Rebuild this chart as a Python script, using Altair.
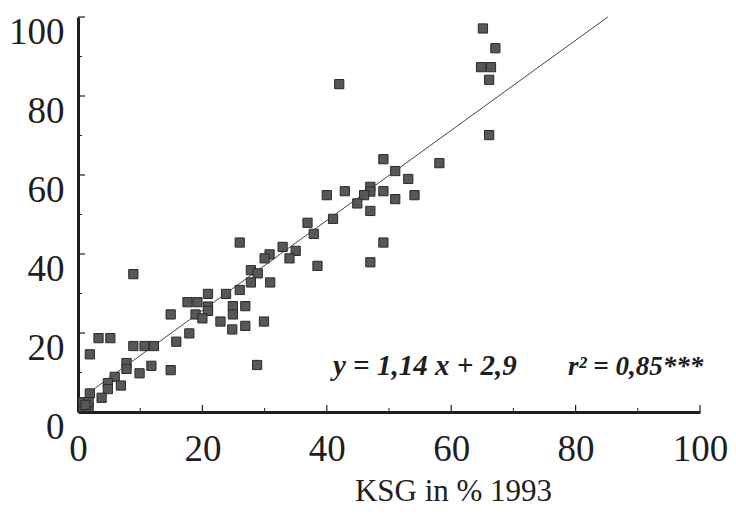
import altair as alt
import pandas as pd

# KSG values: x = 1993 (%), y = later year (%)
x_vals = [26.0, 8.9, 36.9, 37.9, 38.5, 32.9, 35.0, 34.0, 30.8, 30.0,
          27.8, 28.9, 27.8, 30.9, 26.0, 23.8, 20.9, 17.6, 19.2, 20.9,
          20.9, 24.9, 24.9, 26.9, 18.9, 20.0, 22.9, 14.9, 17.9, 15.8,
          24.8, 26.9, 29.9, 28.8, 3.3, 5.2, 1.9, 8.9, 10.7, 12.2,
          11.8, 14.9, 9.9, 7.8, 7.8, 5.9, 4.8, 4.8, 6.9, 3.8,
          1.9, 0.8, 1.7, 0.8, 1.7, 1.2,
          64.8, 66.4, 66.1, 66.1, 42.0, 58.1, 49.1, 51.0, 53.1, 49.1,
          51.0, 54.1, 47.0, 47.0, 46.0, 44.9, 42.9, 40.0, 47.0, 41.0,
          49.1, 47.0, 65.1, 67.1]
y_vals = [42.9, 34.9, 47.9, 45.1, 37.0, 41.8, 40.8, 38.9, 39.9, 38.9,
          35.9, 35.1, 32.8, 32.8, 30.9, 29.9, 29.9, 27.8, 27.8, 26.7,
          25.6, 26.8, 24.7, 26.8, 24.7, 23.7, 22.9, 24.7, 19.9, 17.8,
          20.9, 21.8, 22.9, 11.9, 18.7, 18.7, 14.6, 16.7, 16.7, 16.7,
          11.7, 10.6, 9.8, 12.4, 10.9, 8.9, 7.3, 5.8, 6.7, 3.6,
          4.7, 1.3, 1.3, 2.5, 2.5, 1.8,
          87.3, 87.3, 84.1, 70.1, 83.0, 63.0, 64.0, 61.0, 59.0, 55.9,
          53.9, 54.9, 57.0, 55.8, 54.9, 52.8, 55.9, 54.9, 50.9, 48.9,
          42.9, 37.9, 97.1, 92.1]

slope = 1.14
intercept = 2.9
line_x = [2.5, 85.2]

tick_values = [0, 20, 40, 60, 80, 100]
major_ticks = [20, 40, 60, 80, 100]
minor_ticks = [10, 30, 50, 70, 90]

eq_text = "y = 1,14 x + 2,9"
r2_text = "r² = 0,85***"
x_title = "KSG in % 1993"

W, H = 622, 395
SERIF = "Liberation Serif, Times New Roman, Times, serif"
INK = "#1e1e1e"

pts = pd.DataFrame({"x": x_vals, "y": y_vals})
line_df = pd.DataFrame({"x": line_x})
major_df = pd.DataFrame({"t": major_ticks})
minor_df = pd.DataFrame({"t": minor_ticks})

xscale = alt.Scale(domain=[0, 100], nice=False, zero=False)
yscale = alt.Scale(domain=[0, 100], nice=False, zero=False)

x_axis = alt.Axis(values=tick_values, ticks=False, tickSize=0, grid=False,
                  domainWidth=3, domainColor=INK, labelFont=SERIF,
                  labelFontSize=37, labelColor=INK, labelPadding=19,
                  labelFlush=False, labelOverlap=False,
                  title=x_title, titleFont=SERIF, titleFontSize=31,
                  titleFontWeight="normal", titleColor=INK,
                  titleX=375, titleY=88, titleAlign="center",
                  titleBaseline="alphabetic")
y_axis = alt.Axis(values=tick_values, ticks=False, tickSize=0, grid=False,
                  domainWidth=3, domainColor=INK, labelFont=SERIF,
                  labelFontSize=37, labelColor=INK, labelPadding=14,
                  labelBaseline="middle", labelOffset=15,
                  labelFlush=False, labelOverlap=False, title=None)

points = alt.Chart(pts).mark_square(
    size=85, filled=True, color="#575757", stroke="#2a2a2a",
    strokeWidth=1, opacity=1
).encode(
    x=alt.X("x:Q", scale=xscale, axis=x_axis),
    y=alt.Y("y:Q", scale=yscale, axis=y_axis),
)

reg = alt.Chart(line_df).transform_calculate(
    y=f"{slope} * datum.x + {intercept}"
).mark_line(color="#444444", strokeWidth=1).encode(
    x=alt.X("x:Q", scale=xscale),
    y=alt.Y("y:Q", scale=yscale),
)

xt_major = alt.Chart(major_df).mark_rule(color=INK, strokeWidth=1.2).encode(
    x=alt.X("t:Q", scale=xscale), y=alt.value(H), y2=alt.value(H - 7))
xt_minor = alt.Chart(minor_df).mark_rule(color=INK, strokeWidth=1).encode(
    x=alt.X("t:Q", scale=xscale), y=alt.value(H), y2=alt.value(H - 4))
yt_major = alt.Chart(major_df).mark_rule(color=INK, strokeWidth=1.2).encode(
    y=alt.Y("t:Q", scale=yscale), x=alt.value(0), x2=alt.value(7))
yt_minor = alt.Chart(minor_df).mark_rule(color=INK, strokeWidth=1).encode(
    y=alt.Y("t:Q", scale=yscale), x=alt.value(0), x2=alt.value(4))

eq = alt.Chart(pd.DataFrame({"t": [eq_text]})).mark_text(
    font=SERIF, fontSize=29, fontWeight="bold", fontStyle="italic",
    align="left", baseline="alphabetic", color=INK
).encode(text="t:N", x=alt.value(255), y=alt.value(358))
r2 = alt.Chart(pd.DataFrame({"t": [r2_text]})).mark_text(
    font=SERIF, fontSize=27, fontWeight="bold", fontStyle="italic",
    align="left", baseline="alphabetic", color=INK
).encode(text="t:N", x=alt.value(490), y=alt.value(358))

chart = alt.layer(
    reg, points, xt_major, xt_minor, yt_major, yt_minor, eq, r2
).properties(
    width=W, height=H,
    autosize=alt.AutoSizeParams(type="none"),
    padding={"left": 70, "top": 9, "right": 28, "bottom": 95},
    background="white",
).configure_view(stroke=None)

chart.save("out.html", embed_options={"renderer": "svg", "actions": False})
